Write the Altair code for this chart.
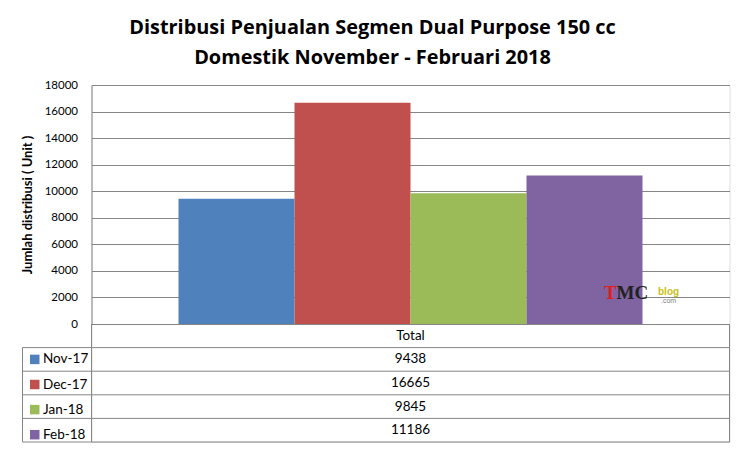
import altair as alt
import pandas as pd

# ---- data ----
months = ["Nov-17", "Dec-17", "Jan-18", "Feb-18"]
values = [9438, 16665, 9845, 11186]
colors = ["#4F81BD", "#C0504D", "#9BBB59", "#8064A2"]
y_ticks = [0, 2000, 4000, 6000, 8000, 10000, 12000, 14000, 16000, 18000]
header = "Total"
rows = [header] + months
title_lines = ["Distribusi Penjualan Segmen Dual Purpose 150 cc",
               "Domestik November - Februari 2018"]
y_title = "Jumlah distribusi ( Unit )"

FONT = "Lato"
TFONT = "Open Sans"
GRID = "#868686"
W, BAR_H, ROW_H = 638, 239, 23.6
H = BAR_H + ROW_H * len(rows)
END = "end"  # closing boundary of the data table

bar_df = pd.DataFrame({"month": months, "value": values})
table_df = pd.DataFrame({
    "row": rows,
    "col": [header] * len(rows),
    "text": [header] + [str(v) for v in values],
})
line_df = pd.DataFrame({"row": months + [END]})
one = pd.DataFrame({"k": [0]})

bars = alt.Chart(bar_df).mark_bar().encode(
    x=alt.X("month:N", sort=months,
            scale=alt.Scale(domain=months, paddingInner=0, paddingOuter=0.75),
            axis=None),
    y=alt.Y("value:Q",
            scale=alt.Scale(domain=[0, 18000], range=[BAR_H, 0], nice=False),
            axis=alt.Axis(values=y_ticks, format="d", grid=True, gridColor=GRID,
                          gridWidth=1, domainColor=GRID, ticks=False, labelPadding=14,
                          labelFont=FONT, labelFontSize=11.5, labelColor="#000",
                          title=y_title, titleFont=FONT, titleFontSize=13,
                          titleFontWeight="bold", titleColor="#000",
                          titleAngle=-90, titleAlign="center", titleBaseline="middle",
                          titleX=-64, titleY=119.5)),
    color=alt.Color("month:N", scale=alt.Scale(domain=months, range=colors),
                    legend=alt.Legend(orient="none", legendX=-63.5,
                                      legendY=BAR_H + ROW_H * 1.5 - 6.75,
                                      title=None, symbolType="square", symbolSize=90,
                                      symbolStrokeWidth=0, symbolOpacity=1,
                                      labelFont=FONT, labelFontSize=13.5,
                                      labelColor="#000", rowPadding=ROW_H - 13.5,
                                      labelOffset=1.5, padding=0)),
)

ytab = alt.Scale(domain=rows + [END], range=[BAR_H, H + ROW_H],
                 paddingInner=0, paddingOuter=0)
xtab = alt.Scale(domain=[header], paddingInner=0, paddingOuter=0)

table_text = alt.Chart(table_df).mark_text(font=FONT, fontSize=13.5, color="#000",
                                           align="center", baseline="middle").encode(
    x=alt.X("col:N", scale=xtab, axis=None),
    y=alt.Y("row:N", scale=ytab, axis=None),
    text="text:N",
)

hlines = alt.Chart(line_df).mark_rule(color=GRID, strokeWidth=1).encode(
    y=alt.Y("row:N", scale=ytab, axis=None, bandPosition=0),
    x=alt.value(-69), x2=alt.value(W),
)

vl_left = alt.Chart(one).mark_rule(color=GRID).encode(
    x=alt.value(-69), y=alt.value(BAR_H + ROW_H), y2=alt.value(H))
vl_mid = alt.Chart(one).mark_rule(color=GRID).encode(
    x=alt.value(0), y=alt.value(BAR_H), y2=alt.value(H))
vl_right = alt.Chart(one).mark_rule(color=GRID).encode(
    x=alt.value(W), y=alt.value(BAR_H), y2=alt.value(H))

wm_t = alt.Chart(one).mark_text(text="T", font="Liberation Serif", fontWeight="bold",
                                fontSize=19, color="#E02020", align="left",
                                baseline="alphabetic").encode(
    x=alt.value(512.5), y=alt.value(213.5))
wm_mc = alt.Chart(one).mark_text(text="MC", font="Liberation Serif", fontWeight="bold",
                                 fontSize=19, color="#222222", align="left",
                                 baseline="alphabetic").encode(
    x=alt.value(525), y=alt.value(213.5))
wm_blog = alt.Chart(one).mark_text(text="blog", font="Liberation Sans", fontWeight="bold",
                                   fontSize=10, color="#C8C020", align="left",
                                   baseline="alphabetic").encode(
    x=alt.value(566.5), y=alt.value(209.5))
wm_com = alt.Chart(one).mark_text(text=".com", font="Liberation Sans",
                                  fontSize=7, color="#808080", align="left",
                                  baseline="alphabetic").encode(
    x=alt.value(569.5), y=alt.value(217.5))

chart = alt.layer(
    bars, hlines, vl_left, vl_mid, vl_right, table_text,
    wm_t, wm_mc, wm_blog, wm_com,
).resolve_scale(
    x="independent", y="independent", color="independent"
).properties(
    width=W, height=H,
    padding={"left": 12.5, "top": 10, "right": 0, "bottom": 0},
    autosize=alt.AutoSizeParams(type="pad"),
    title=alt.Title(title_lines, font=TFONT, fontSize=19.9, fontWeight="bold",
                    color="#000", anchor="middle", frame="group", dx=-38,
                    offset=11, lineHeight=30),
).configure_view(stroke=None).configure(background="white")

chart.save("out.html", embed_options={"renderer": "svg", "actions": False})
